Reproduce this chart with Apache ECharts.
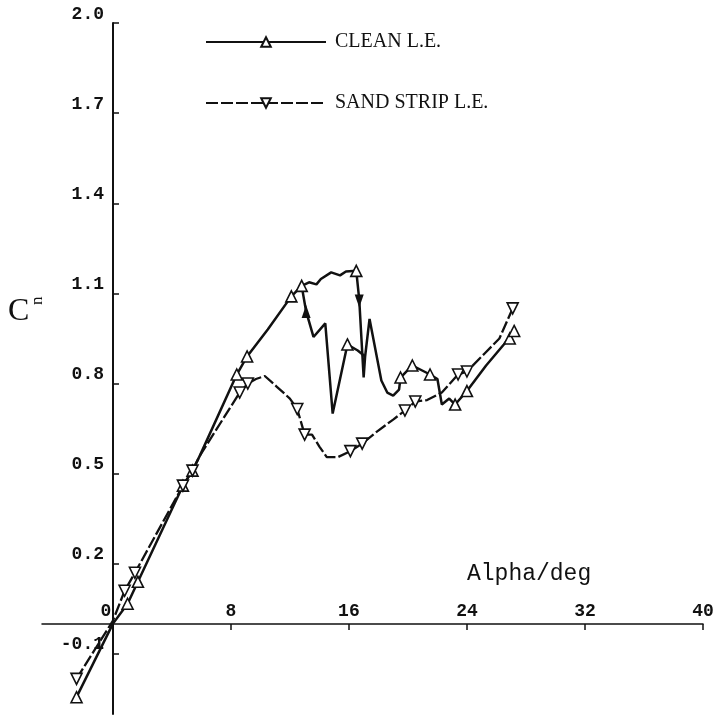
<!DOCTYPE html>
<html>
<head>
<meta charset="utf-8">
<script src="https://cdn.jsdelivr.net/npm/echarts@6/dist/echarts.min.js"></script>
<style>
  html, body { margin: 0; padding: 0; background: #fff; }
  #chart { width: 717px; height: 720px; }
</style>
</head>
<body>
<div id="chart"></div>
<script>
// data: [alpha (deg), Cn]
var xTicks = [0, 8, 16, 24, 32, 40]
var yTicks = [-0.1, 0.2, 0.5, 0.8, 1.1, 1.4, 1.7, 2.0]

// clean leading edge, increasing alpha (incl. stall drop)
var cleanUp = [
    [-2.46, -0.244], [0, 0], [1.0, 0.067], [1.7, 0.14], [4.75, 0.46], [5.4, 0.51],
    [5.9, 0.56], [8.4, 0.83], [9.1, 0.89], [10.5, 0.98], [12.1, 1.09], [12.8, 1.125],
    [13.3, 1.137], [13.8, 1.13], [14.1, 1.148], [14.8, 1.17], [15.4, 1.16], [15.8, 1.173],
    [16.5, 1.175], [16.7, 1.08], [17.0, 0.82], [17.1, 0.89], [17.4, 1.015], [18.2, 0.81],
    [18.6, 0.77], [19.0, 0.76], [19.4, 0.78], [19.5, 0.82], [20.3, 0.86], [21.5, 0.83],
    [22.0, 0.815], [22.3, 0.73], [22.8, 0.75], [23.2, 0.73], [24.0, 0.775], [25.3, 0.86],
    [26.5, 0.93], [27.2, 0.975]
]
// clean leading edge, return branch (reattachment)
var cleanBack = [
    [17.1, 0.89], [16.6, 0.91], [15.9, 0.93], [14.9, 0.70], [14.4, 1.0], [13.6, 0.955],
    [13.1, 1.04], [12.8, 1.125]
]
var cleanMarks = [
    [-2.46, -0.244], [1.0, 0.067], [1.7, 0.14], [4.75, 0.46], [5.4, 0.51], [8.4, 0.83],
    [9.1, 0.89], [12.1, 1.09], [12.8, 1.125], [16.5, 1.175], [15.9, 0.93], [19.5, 0.82],
    [20.3, 0.86], [21.5, 0.83], [23.2, 0.73], [24.0, 0.775], [26.9, 0.95], [27.2, 0.975]
]
// sand strip leading edge
var sandPath = [
    [-2.46, -0.183], [0, 0.01], [0.8, 0.11], [1.5, 0.17], [4.75, 0.46], [5.4, 0.51],
    [5.9, 0.56], [8.6, 0.77], [9.15, 0.80], [9.7, 0.815], [10.3, 0.825], [11.1, 0.79],
    [12.0, 0.75], [12.5, 0.715], [13.0, 0.63], [13.5, 0.63], [14.0, 0.59], [14.5, 0.555],
    [15.25, 0.555], [16.1, 0.575], [16.9, 0.60], [17.9, 0.64], [19.0, 0.68], [19.8, 0.71],
    [20.5, 0.74], [21.3, 0.745], [22.3, 0.77], [23.4, 0.83], [24.0, 0.84], [25.2, 0.90],
    [26.2, 0.95], [27.1, 1.05]
]
var sandMarks = [
    [-2.46, -0.183], [0.8, 0.11], [1.5, 0.17], [4.75, 0.46], [5.4, 0.51], [8.6, 0.77],
    [9.15, 0.80], [12.5, 0.715], [13.0, 0.63], [16.1, 0.575], [16.9, 0.60], [19.8, 0.71],
    [20.5, 0.74], [23.4, 0.83], [24.0, 0.84], [27.1, 1.05]
]
// direction arrows on the hysteresis loop
var arrowUp = [[13.1, 1.04]]
var arrowDown = [[16.7, 1.075]]

var chart = echarts.init(document.getElementById('chart'))

var markStyle = { color: '#fff', borderColor: '#111', borderWidth: 1.6, opacity: 1 }
var lineClean = { color: '#111', width: 2.5 }
var lineSand = { color: '#111', width: 2.3, type: [12, 3] }

chart.setOption({
    animation: false,
    backgroundColor: '#fff',
    grid: { left: 42, right: 14, top: 23, bottom: 6, outerBoundsMode: 'none', containLabel: false },
    legend: {
        orient: 'vertical',
        left: 200,
        top: 27,
        itemWidth: 120,
        itemHeight: 12,
        itemGap: 41,
        data: ['CLEAN L.E.', 'SAND STRIP L.E.'],
        textStyle: { fontFamily: 'Liberation Serif', fontSize: 20, color: '#111', padding: [0, 0, 0, 4] }
    },
    xAxis: {
        type: 'value',
        min: -4.8,
        max: 40,
        position: 'bottom',
        offset: -90, // axis sits on Cn = 0
        splitLine: { show: false },
        axisLine: { onZero: false, lineStyle: { color: '#111', width: 1.5 } },
        axisTick: { inside: false, length: 6, customValues: xTicks, lineStyle: { color: '#111', width: 1.5 } },
        axisLabel: {
            inside: true,
            margin: 4,
            customValues: xTicks,
            fontFamily: 'Liberation Mono',
            fontWeight: 'bold',
            fontSize: 18,
            color: '#111',
            formatter: function (v) { return v === 0 ? '{z|0}' : String(v) },
            rich: { z: { padding: [0, 14, 0, 0], fontFamily: 'Liberation Mono', fontWeight: 'bold', fontSize: 18 } }
        }
    },
    yAxis: {
        type: 'value',
        min: -0.3,
        max: 2.0,
        position: 'left',
        offset: -71, // axis sits on alpha = 0
        splitLine: { show: false },
        axisLine: { onZero: false, lineStyle: { color: '#111', width: 2 } },
        axisTick: { inside: true, length: 6, customValues: yTicks, lineStyle: { color: '#111', width: 1.5 } },
        axisLabel: {
            margin: 9,
            customValues: yTicks,
            verticalAlign: 'bottom',
            fontFamily: 'Liberation Mono',
            fontWeight: 'bold',
            fontSize: 18,
            color: '#111',
            formatter: function (v) { return v.toFixed(1) }
        }
    },
    graphic: [
        { type: 'text', left: 467, top: 562, style: { text: 'Alpha/deg', font: '23px "Liberation Mono"', fill: '#111' } },
        { type: 'text', left: 8, top: 296, style: { text: 'C', font: '32px "Liberation Serif"', fill: '#111' } },
        { type: 'text', x: 29, y: 305, rotation: Math.PI / 2, style: { text: 'n', font: '17px "Liberation Serif"', fill: '#111' } }
    ],
    series: [
        {
            name: 'CLEAN L.E.', type: 'line', data: cleanUp, showSymbol: false,
            symbol: 'triangle', symbolSize: 10, itemStyle: markStyle, lineStyle: lineClean, z: 3
        },
        {
            name: 'SAND STRIP L.E.', type: 'line', data: sandPath, showSymbol: false,
            symbol: 'triangle', symbolRotate: 180, symbolSize: 10, itemStyle: markStyle, lineStyle: lineSand, z: 2
        },
        { name: 'cleanBack', type: 'line', data: cleanBack, symbol: 'none', lineStyle: lineClean, z: 3 },
        { name: 'cleanMarks', type: 'scatter', data: cleanMarks, symbol: 'triangle', symbolSize: 11, itemStyle: markStyle, z: 5 },
        { name: 'sandMarks', type: 'scatter', data: sandMarks, symbol: 'triangle', symbolRotate: 180, symbolSize: 11, itemStyle: markStyle, z: 5 },
        { name: 'arrowUp', type: 'scatter', data: arrowUp, symbol: 'triangle', symbolSize: [9, 13], itemStyle: { color: '#111', opacity: 1 }, z: 6 },
        { name: 'arrowDown', type: 'scatter', data: arrowDown, symbol: 'triangle', symbolRotate: 180, symbolSize: [9, 13], itemStyle: { color: '#111', opacity: 1 }, z: 6 }
    ]
})
</script>
</body>
</html>
